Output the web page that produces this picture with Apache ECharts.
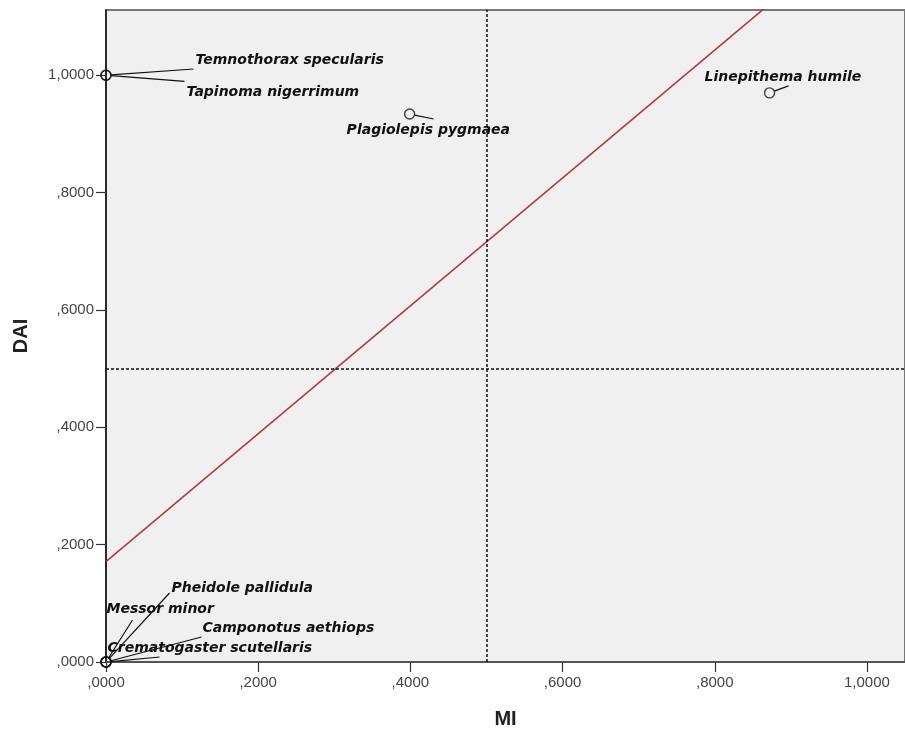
<!DOCTYPE html>
<html>
<head>
<meta charset="utf-8">
<script src="https://cdn.jsdelivr.net/npm/echarts@6/dist/echarts.min.js"></script>
<style>
  html, body { margin: 0; padding: 0; background: #ffffff; }
  #chart { width: 905px; height: 736px; }
</style>
</head>
<body>
<div id="chart"></div>
<script>
// Species positioned by MI (x) and DAI (y)
const species = [
  'Temnothorax specularis',
  'Tapinoma nigerrimum',
  'Plagiolepis pygmaea',
  'Linepithema humile',
  'Pheidole pallidula',
  'Messor minor',
  'Camponotus aethiops',
  'Crematogaster scutellaris'
];
const miValues  = [0, 0, 0.399, 0.872, 0, 0, 0, 0];
const daiValues = [1.0, 1.0, 0.934, 0.970, 0, 0, 0, 0];

// Reference line y = a + b·x
const fitIntercept = 0.171;
const fitSlope = 1.09;
const fitX = [0, 1.05];

// Quadrant thresholds
const miThreshold = 0.5;
const daiThreshold = 0.5;

const tickValues = [0, 0.2, 0.4, 0.6, 0.8, 1.0];

// Label placement relative to each point (pixels): text anchor and leader end
const labelOffsets = [
  [89.5, -15.3], [80.5, 17.2], [-63, 16], [-65, -15.4],
  [65.5, -74], [0.5, -53], [96.5, -34], [1.5, -14]
];
const leaderEnds = [
  [87.5, -6.3], [78.5, 6], [24, 5], [19, -7],
  [63.5, -69], [26.5, -42], [95.5, -25], [53.5, -5]
];

function fmt(v) {
  const s = v.toFixed(4).replace('.', ',');
  return s.startsWith('0,') ? s.slice(1) : s;
}

const chart = echarts.init(document.getElementById('chart'), null, { renderer: 'canvas' });

const axisFont = { fontFamily: 'Liberation Sans, Arial, sans-serif', fontSize: 15, color: '#444' };
const titleFont = { fontFamily: 'Liberation Sans, Arial, sans-serif', fontSize: 20, fontWeight: 'bold', color: '#222' };

chart.setOption({
  animation: false,
  backgroundColor: '#ffffff',
  grid: {
    left: 106, top: 10, width: 801, height: 652,
    show: true, backgroundColor: '#f0f0f0', borderColor: '#777', borderWidth: 2
  },
  xAxis: {
    type: 'value', min: 0, max: 1.05,
    name: 'MI', nameLocation: 'middle', nameGap: 47,
    nameTextStyle: titleFont,
    splitLine: { show: false },
    axisLine: { show: true, onZero: false, lineStyle: { color: '#555', width: 2 } },
    axisTick: { show: true, length: 10, customValues: tickValues, lineStyle: { color: '#333', width: 1.2 } },
    axisLabel: Object.assign({ margin: 13, customValues: tickValues, formatter: fmt }, axisFont)
  },
  yAxis: {
    type: 'value', min: 0, max: 652 / 586.7,
    name: 'DAI', nameLocation: 'middle', nameGap: 75, nameRotate: 90,
    nameTextStyle: titleFont,
    splitLine: { show: false },
    axisLine: { show: true, onZero: false, lineStyle: { color: '#111', width: 1.5 } },
    axisTick: { show: true, length: 10, customValues: tickValues, lineStyle: { color: '#333', width: 1.2 } },
    axisLabel: Object.assign({ margin: 12, customValues: tickValues, formatter: fmt }, axisFont)
  },
  series: [
    {
      type: 'scatter',
      z: 5,
      symbol: 'circle',
      symbolSize: 10,
      itemStyle: { color: 'rgba(0,0,0,0)', borderColor: '#111', borderWidth: 1.4 },
      data: miValues.map((x, i) => [x, daiValues[i]]),
      markLine: {
        silent: true,
        symbol: 'none',
        label: { show: false },
        lineStyle: { color: '#111', type: [3, 2], width: 1.5 },
        data: [{ xAxis: miThreshold }, { yAxis: daiThreshold }]
      }
    },
    {
      type: 'line',
      z: 4,
      clip: true,
      symbol: 'none',
      lineStyle: { color: '#b33a3a', width: 1.6 },
      data: fitX.map(x => [x, fitIntercept + fitSlope * x])
    }
  ]
});

// Species names with leader lines, placed from each point's pixel position
const graphics = [];
const radius = 5;
species.forEach((name, i) => {
  const p = chart.convertToPixel({ seriesIndex: 0 }, [miValues[i], daiValues[i]]);
  const end = [p[0] + leaderEnds[i][0], p[1] + leaderEnds[i][1]];
  const dx = end[0] - p[0], dy = end[1] - p[1];
  const len = Math.sqrt(dx * dx + dy * dy);
  const start = [p[0] + dx / len * radius, p[1] + dy / len * radius];
  graphics.push({
    type: 'line', z: 10,
    shape: { x1: start[0], y1: start[1], x2: end[0], y2: end[1] },
    style: { stroke: '#111', lineWidth: 1.2 }
  });
  graphics.push({
    type: 'text', z: 11,
    x: p[0] + labelOffsets[i][0], y: p[1] + labelOffsets[i][1],
    style: {
      text: name,
      fill: '#111',
      font: 'italic bold 14px "DejaVu Sans", sans-serif',
      textAlign: 'left', textVerticalAlign: 'middle'
    }
  });
});
chart.setOption({ graphic: graphics });
</script>
</body>
</html>
